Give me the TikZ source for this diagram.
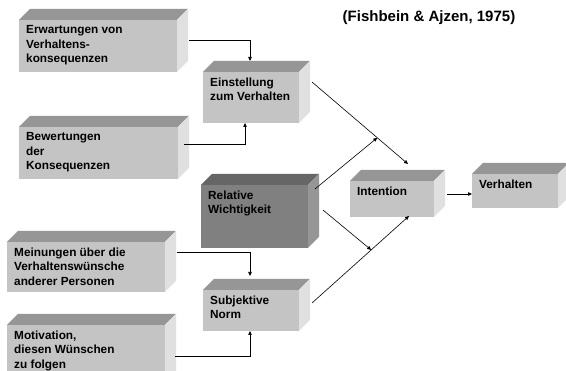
\documentclass[tikz,border=0pt]{standalone}
\usepackage{fontspec}
\setmainfont{Liberation Sans}
\usetikzlibrary{arrows.meta,calc}
\definecolor{flt}{RGB}{196,196,196}
\definecolor{tlt}{RGB}{150,150,150}
\definecolor{slt}{RGB}{224,224,224}
\definecolor{fdk}{RGB}{128,128,128}
\definecolor{tdk}{RGB}{102,102,102}
\definecolor{sdk}{RGB}{150,150,150}
\tikzset{
  frontlt/.style={fill=flt, draw=none, inner sep=0pt, outer sep=0pt},
  toplt/.style={fill=tlt},
  sidelt/.style={fill=slt},
  frontdk/.style={fill=fdk, draw=none, inner sep=0pt, outer sep=0pt},
  topdk/.style={fill=tdk},
  sidedk/.style={fill=sdk},
  boxtext/.style={inner sep=0pt, align=left, font=\fontsize{11.8}{14.4}\selectfont\bfseries},
  arr/.style={-{Triangle[length=4pt,width=3.5pt]}, line width=0.6pt},
}
\newcommand\cubebox[7]{%
  \node[front#6, minimum width={(#4-#2)*1pt}, minimum height={(#5-#3)*1pt}] (#1) at ({(#2+#4)/2},{(#3+#5)/2}) {};
  \fill[top#6] (#1.north west) -- ++(11,-11) -- ++({#4-#2},0) -- (#1.north east) -- cycle;
  \fill[side#6] (#1.north east) -- ++(11,-11) -- ++(0,{#5-#3}) -- (#1.south east) -- cycle;
  \node[boxtext, anchor=north west] (#1-t) at ([shift={(7,5.5)}]#1.north west) {#7};
}
\begin{document}
\begin{tikzpicture}[x=1pt,y=-1pt]
\useasboundingbox (0,0) rectangle (566,371);
\clip (0,0) rectangle (566,371);
\fill[white] (0,0) rectangle (566,371);

\cubebox{erw}{19}{20}{177}{72}{lt}{Erwartungen von\\Verhaltens-\\konsequenzen}
\cubebox{bew}{19}{127}{178}{179}{lt}{Bewertungen\\der\\Konsequenzen}
\cubebox{ein}{203}{72}{299}{123}{lt}{Einstellung\\zum Verhalten}
\cubebox{rel}{201}{185}{308}{248}{dk}{Relative\\Wichtigkeit}
\cubebox{mei}{7}{242}{165}{292}{lt}{Meinungen über die\\Verhaltenswünsche\\anderer Personen}
\cubebox{sub}{203}{290}{299}{331}{lt}{Subjektive\\Norm}
\cubebox{mot}{7}{325}{165}{385}{lt}{Motivation,\\diesen Wünschen\\zu folgen}
\cubebox{int}{350}{181}{434}{217}{lt}{Intention}
\cubebox{ver}{472}{174}{558}{208}{lt}{Verhalten}

\node[font=\fontsize{15}{18}\selectfont\bfseries, inner sep=0pt] (title) at (429,18) {(Fishbein \& Ajzen, 1975)};

% inputs
\draw[arr] ($(erw.north east)+(12,20)$) -| ($(ein.north)+(-1,-11)$);
\draw[arr] ($(bew.north east)+(6,17)$) -| ($(ein.south)+(-6,0)$);
\draw[arr] ($(mei.north east)+(12,10)$) -| ($(sub.north)+(-1,-14)$);
\draw[arr] ($(mot.north east)+(10,31)$) -| ($(sub.south)+(-1,0)$);

% to intention
\draw[arr] ($(ein.north east)+(13,10)$) -- coordinate[pos=0.68] (m1) ($(int.north)+(16,-17)$);
\draw[arr] ($(sub.north east)+(13,13)$) -- coordinate[pos=0.61] (m2) ($(int.south)+(17,-1)$);
\draw[arr] ($(rel.north east)+(7,4)$) -- (m1);
\draw[arr] ($(rel.north east)+(15,25)$) -- (m2);

\draw[arr] ($(int.east)+(13,-5)$) coordinate (s9) -- (ver.west |- s9);
\end{tikzpicture}
\end{document}
